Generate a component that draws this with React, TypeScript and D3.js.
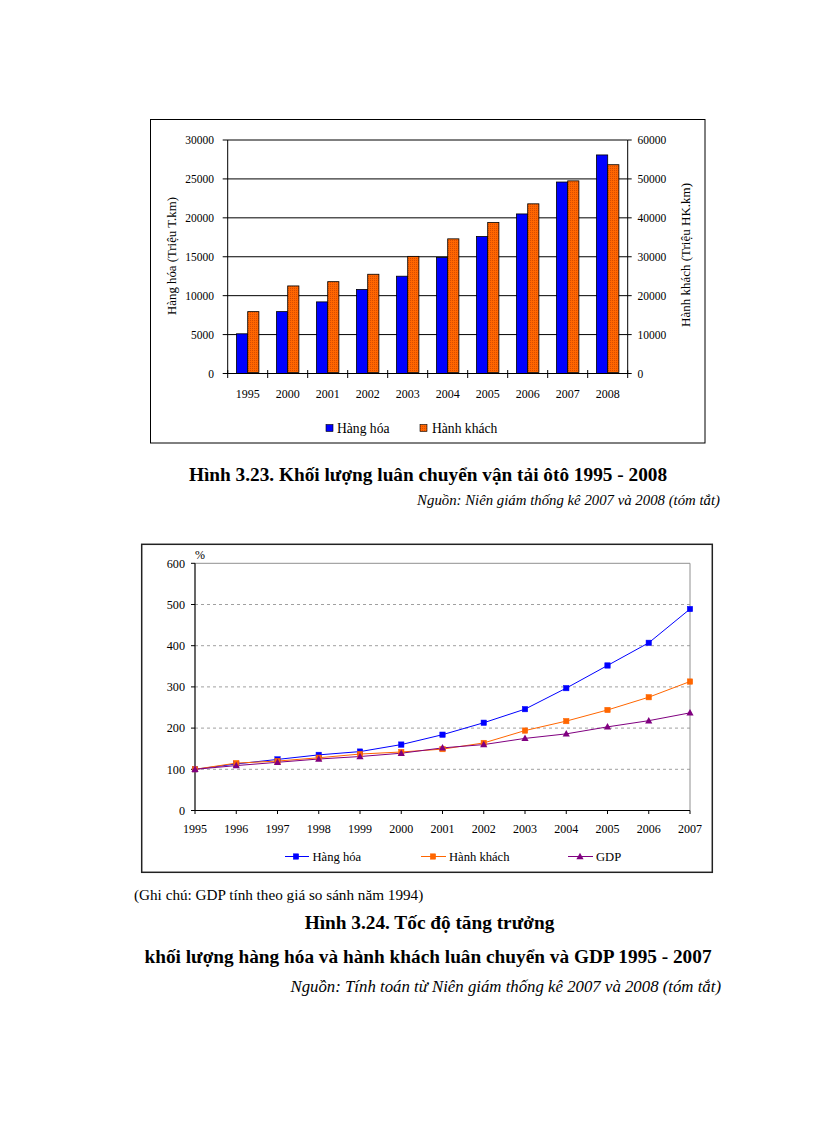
import React from "react";
import * as d3 from "d3";

// ---------- Data: chart 1 (bars) ----------
const barYears = ["1995", "2000", "2001", "2002", "2003", "2004", "2005", "2006", "2007", "2008"];
const goodsTkm = [5100, 7950, 9200, 10800, 12500, 14900, 17600, 20500, 24600, 28080];
const passengerHKkm = [15900, 22500, 23600, 25500, 30100, 34600, 38800, 43600, 49500, 53650];
const leftTicks = [0, 5000, 10000, 15000, 20000, 25000, 30000];
const rightTicks = [0, 10000, 20000, 30000, 40000, 50000, 60000];

// ---------- Data: chart 2 (lines) ----------
const lineYears = ["1995", "1996", "1997", "1998", "1999", "2000", "2001", "2002", "2003", "2004", "2005", "2006", "2007"];
const goodsIdx = [100, 113, 124, 135, 143, 160, 184, 213, 246, 297, 352, 407, 489];
const passengerIdx = [100, 115, 120, 128, 137, 142, 149, 164, 194, 217, 244, 275, 313];
const gdpIdx = [100, 109, 117, 125, 131, 139, 152, 160, 175, 186, 203, 218, 237];
const pctTicks = [0, 100, 200, 300, 400, 500, 600];

const FONT = "'Liberation Serif', 'Times New Roman', serif";

function BarChart() {
  const x0 = 227.7, x1 = 627.7, yTop = 140, yBot = 373.5;
  const xb = d3.scaleBand<string>().domain(barYears).range([x0, x1]);
  const yL = d3.scaleLinear().domain([0, 30000]).range([yBot, yTop]);
  const yR = d3.scaleLinear().domain([0, 60000]).range([yBot, yTop]);
  const bw = 11.2;
  return (
    <g fontFamily={FONT} fill="#000">
      <rect x={150.5} y={119.5} width={554.5} height={323.5} fill="#fff" stroke="#000" strokeWidth={1} />
      {leftTicks.map((t) => (
        <line key={"g" + t} x1={x0 - 5} x2={x1} y1={yL(t)} y2={yL(t)} stroke="#000" strokeWidth={1} />
      ))}
      {barYears.map((yr, i) => {
        const cx = (xb(yr) as number) + xb.bandwidth() / 2;
        return (
          <g key={yr}>
            <rect x={cx - bw} y={yL(goodsTkm[i])} width={bw} height={yBot - yL(goodsTkm[i])} fill="#0000ff" stroke="#000" strokeWidth={0.8} />
            <rect x={cx} y={yR(passengerHKkm[i])} width={bw} height={yBot - 1 - yR(passengerHKkm[i])} fill="url(#orangeDither)" stroke="#000" strokeWidth={0.8} />
          </g>
        );
      })}
      <line x1={x0} x2={x0} y1={yTop} y2={yBot} stroke="#000" strokeWidth={1} />
      <line x1={x1} x2={x1} y1={yTop} y2={yBot} stroke="#000" strokeWidth={1} />
      <line x1={x0} x2={x1} y1={yBot} y2={yBot} stroke="#000" strokeWidth={1} />
      {rightTicks.map((t) => (
        <g key={"r" + t}>
          <line x1={x1} x2={x1 + 4} y1={yR(t)} y2={yR(t)} stroke="#000" />
          <text x={637.5} y={yR(t) + 4} fontSize={11.5}>{t}</text>
        </g>
      ))}
      {leftTicks.map((t) => (
        <text key={"l" + t} x={214} y={yL(t) + 4} fontSize={11.5} textAnchor="end">{t}</text>
      ))}
      {barYears.map((yr) => (
        <text key={"x" + yr} x={(xb(yr) as number) + xb.bandwidth() / 2} y={397.5} fontSize={12} textAnchor="middle">{yr}</text>
      ))}
      {[...barYears.map((yr) => xb(yr) as number), x1].map((bx, i) => (
        <line key={"bt" + i} x1={bx} x2={bx} y1={yBot - 3.5} y2={yBot + 4.5} stroke="#000" />
      ))}
      <text transform="translate(176,256) rotate(-90)" fontSize={12.8} textAnchor="middle">Hàng hóa (Triệu T.km)</text>
      <text transform="translate(690,255) rotate(-90)" fontSize={13} textAnchor="middle">Hành khách (Triệu HK.km)</text>
      <rect x={326} y={424.5} width={7} height={7} fill="#0000ff" stroke="#000" strokeWidth={0.6} />
      <text x={337} y={432.5} fontSize={13.6}>Hàng hóa</text>
      <rect x={420} y={424.5} width={7} height={7} fill="url(#orangeDither)" stroke="#000" strokeWidth={0.6} />
      <text x={432} y={432.5} fontSize={13.6}>Hành khách</text>
    </g>
  );
}

function LineChart() {
  const x0 = 195, x1 = 690, yTop = 563.3, yBot = 810.5;
  const xp = d3.scalePoint<string>().domain(lineYears).range([x0, x1]);
  const y = d3.scaleLinear().domain([0, 600]).range([yBot, yTop]);
  const line = d3
    .line<number>()
    .x((_, i) => xp(lineYears[i]) as number)
    .y((v) => y(v));
  const sq = (cx: number, cy: number, c: string, k: string) => (
    <rect key={k} x={cx - 2.7} y={cy - 2.7} width={5.4} height={5.4} fill={c} stroke={c} strokeWidth={0.5} />
  );
  const tri = (cx: number, cy: number, c: string, k: string) => (
    <path key={k} d={`M${cx},${cy - 3.8} L${cx + 3.6},${cy + 2.7} L${cx - 3.6},${cy + 2.7} Z`} fill={c} />
  );
  return (
    <g fontFamily={FONT} fill="#000">
      <rect x={141.7} y={544.3} width={570.6} height={328} fill="#fff" stroke="#222" strokeWidth={1.5} />
      {pctTicks.filter((t) => t > 0 && t < 600).map((t) => (
        <line key={"g" + t} x1={x0} x2={x1} y1={y(t)} y2={y(t)} stroke="#a0a0a0" strokeWidth={1} strokeDasharray="3,3" />
      ))}
      <line x1={x0} x2={x1} y1={yTop} y2={yTop} stroke="#909090" strokeWidth={1} />
      <line x1={x1} x2={x1} y1={yTop} y2={yBot} stroke="#909090" strokeWidth={1} />
      <line x1={x0} x2={x0} y1={yTop} y2={yBot} stroke="#000" strokeWidth={1.2} />
      <line x1={x0} x2={x1} y1={yBot} y2={yBot} stroke="#000" strokeWidth={1.2} />
      {pctTicks.map((t) => (
        <g key={"t" + t}>
          <line x1={x0 - 4} x2={x0} y1={y(t)} y2={y(t)} stroke="#000" />
          <text x={185} y={y(t) + 4.2} fontSize={12.2} textAnchor="end">{t}</text>
        </g>
      ))}
      {lineYears.map((yr) => (
        <g key={"x" + yr}>
          <line x1={xp(yr) as number} x2={xp(yr) as number} y1={yBot} y2={yBot + 3.5} stroke="#000" />
          <text x={xp(yr) as number} y={832.5} fontSize={12} textAnchor="middle">{yr}</text>
        </g>
      ))}
      <text x={195} y={559} fontSize={12}>%</text>
      <path d={line(goodsIdx) as string} fill="none" stroke="#0000ff" strokeWidth={1} />
      <path d={line(passengerIdx) as string} fill="none" stroke="#ff6600" strokeWidth={1} />
      <path d={line(gdpIdx) as string} fill="none" stroke="#800080" strokeWidth={1} />
      {goodsIdx.map((v, i) => sq(xp(lineYears[i]) as number, y(v), "#0000ff", "b" + i))}
      {passengerIdx.map((v, i) => sq(xp(lineYears[i]) as number, y(v), "#ff6600", "o" + i))}
      {gdpIdx.map((v, i) => tri(xp(lineYears[i]) as number, y(v), "#800080", "p" + i))}
      <line x1={285} x2={309} y1={856.5} y2={856.5} stroke="#0000ff" />
      {sq(296, 856.5, "#0000ff", "lb")}
      <text x={312.5} y={861} fontSize={12.6}>Hàng hóa</text>
      <line x1={421} x2={446} y1={856.5} y2={856.5} stroke="#ff6600" />
      {sq(433, 856.5, "#ff6600", "lo")}
      <text x={449} y={861} fontSize={12.6}>Hành khách</text>
      <line x1={568} x2={593} y1={856.5} y2={856.5} stroke="#800080" />
      {tri(580, 856.5, "#800080", "lp")}
      <text x={596} y={861} fontSize={12.6}>GDP</text>
    </g>
  );
}

export default function App() {
  return (
    <svg
      width={816}
      height={1123}
      viewBox="0 0 816 1123"
      style={{ position: "absolute", left: 0, top: 0, background: "#fff" }}
    >
      <defs>
        <pattern id="orangeDither" width={2} height={2} patternUnits="userSpaceOnUse">
          <rect width={2} height={2} fill="#ff6600" />
          <rect width={1} height={1} fill="#d94c00" />
        </pattern>
      </defs>
      <rect width={816} height={1123} fill="#fff" />
      <BarChart />
      <text x={428} y={480.5} fontFamily={FONT} fontSize={19.3} fontWeight="bold" textAnchor="middle">
        Hình 3.23. Khối lượng luân chuyển vận tải ôtô 1995 - 2008
      </text>
      <text x={720} y={504.5} fontFamily={FONT} fontSize={14.8} fontStyle="italic" textAnchor="end">
        Nguồn: Niên giám thống kê 2007 và 2008 (tóm tắt)
      </text>
      <LineChart />
      <text x={134} y={900} fontFamily={FONT} fontSize={15.2}>
        (Ghi chú: GDP tính theo giá so sánh năm 1994)
      </text>
      <text x={429.5} y={929} fontFamily={FONT} fontSize={19.3} fontWeight="bold" textAnchor="middle">
        Hình 3.24. Tốc độ tăng trưởng
      </text>
      <text x={428} y={963} fontFamily={FONT} fontSize={19.3} fontWeight="bold" textAnchor="middle">
        khối lượng hàng hóa và hành khách luân chuyển và GDP 1995 - 2007
      </text>
      <text x={721} y={992} fontFamily={FONT} fontSize={16.8} fontStyle="italic" textAnchor="end">
        Nguồn: Tính toán từ Niên giám thống kê 2007 và 2008 (tóm tắt)
      </text>
    </svg>
  );
}
